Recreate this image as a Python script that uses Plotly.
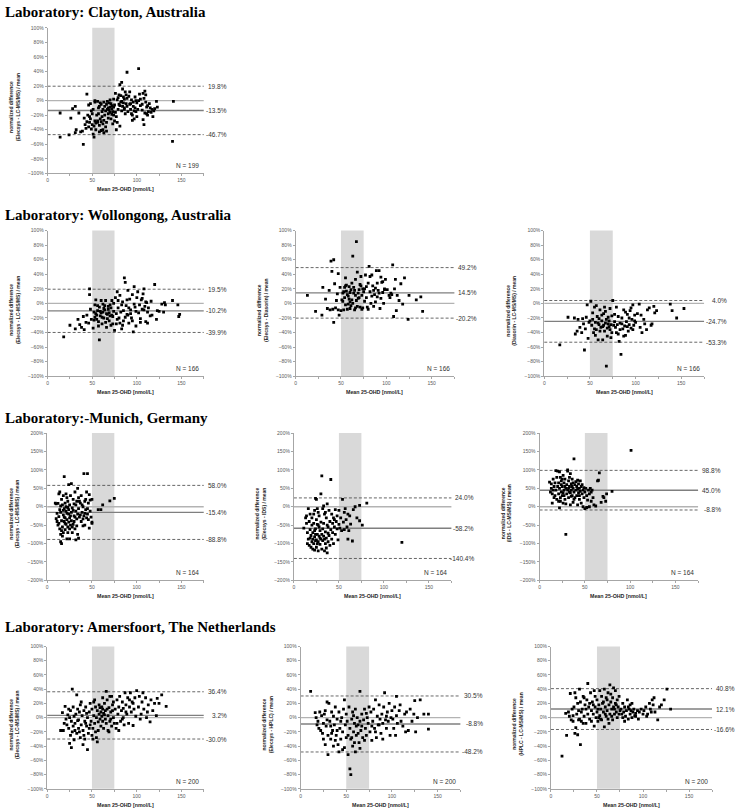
import plotly.graph_objects as go

W, H = 742, 812

# ---------------- data (mean 25-OHD [nmol/L], normalized difference [%]) ----------------
clayton_elecsys_lcms = [
 (14,-50),(14,-17),(24,-47),(26,-24),(28,-11),(31,-8),(31,-44),(32,-40),(35,-17),(37,-43),(40,-60),(42,-33),(44,-29),(44,9),(45,-20),(43,-38),(41,-24),(39,-42),
 (46,-36),(47,-30),(48,-25),(49,-39),(50,-33),(51,-46),(52,-50),(53,-28),(54,-40),(55,-20),(46,-6),(48,-4),(49,-14),(51,-12),(53,-2),(52,-35),(50,-18),(54,-31),(47,-22),(53,0),
 (56,-28),(57,-10),(58,-43),(59,-25),(60,-5),(61,-15),(62,-32),(63,-2),(64,-20),(58,-8),(56,-30),(60,-41),(62,-12),(63,-27),(65,-36),(57,-18),(59,-3),(61,-22),(64,-8),(65,-14),(60,-29),(56,-1),(63,-44),(62,-40),(58,-34),
 (66,-5),(67,-12),(68,-18),(69,-3),(70,-9),(71,-25),(72,-7),(73,-15),(74,2),(66,-30),(68,-24),(70,-16),(72,-11),(74,-20),(75,-6),(67,-1),(69,-13),(71,-4),(73,-32),(75,-28),(66,-42),(68,-10),(70,1),(72,-19),(74,-9),
 (76,10),(77,-40),(78,1),(80,8),(81,22),(82,-2),(83,-14),(84,16),(85,5),(86,-10),(87,12),(88,-4),(89,39),(77,-22),(79,-12),(81,-7),(83,25),(85,-3),(87,-18),(89,3),(76,-16),(78,-30),(80,-5),(82,7),(84,-8),(86,2),(88,8),(90,-15),(79,4),(83,-1),(86,-12),(89,-8),(81,-35),
 (91,6),(92,-5),(93,-12),(94,1),(95,-20),(96,-8),(97,-25),(98,5),(99,-15),(100,-3),(102,44),(103,9),(104,-7),(92,12),(94,-18),(96,-2),(98,-10),(100,-22),(102,0),(104,2),(95,-27),(97,-14),(99,0),(101,-12),(93,-4),
 (106,-13),(107,10),(108,-33),(109,13),(110,-2),(111,-18),(112,-7),(113,-15),(115,-10),(117,-12),(118,-22),(120,-11),(122,-1),(123,-9),(106,-5),(108,3),(110,8),(112,-20),(114,-4),(116,-16),(119,-14),(107,-26),(109,-17),(111,-9),
 (141,-1),(140,-56)]

wollongong_elecsys_lcms = [
 (18,-46),(25,-30),(31,-35),(34,-22),(36,-29),(38,-33),(40,-18),(41,-36),(43,-26),(44,-16),(46,-27),(47,20),(47,12),(48,-8),(49,-22),
 (51,-34),(52,-12),(53,-2),(54,5),(55,-22),(56,-10),(57,-25),(58,-50),(58,-5),(59,-17),(60,4),(61,-28),(62,-12),(63,-20),(64,-3),(65,4),(66,-33),(67,-15),(68,-8),(69,-24),(70,-2),(71,-30),(72,4),(73,-18),(74,-11),(75,-37),(52,-23),(54,-14),(56,-3),(57,-31),(59,-11),(61,-19),(63,-7),(65,-26),(67,-21),(69,-13),(71,-6),(73,-28),(55,-16),(62,-1),(66,-14),(70,-17),(74,0),(60,-13),(64,-9),(68,-4),(72,-16),(53,-19),
 (76,8),(77,-28),(78,16),(79,-6),(80,-20),(81,11),(82,-12),(83,-35),(84,2),(85,-24),(86,35),(87,29),(88,-3),(89,-15),(90,18),(91,-27),(92,6),(93,-9),(94,-20),(95,12),(96,-39),(97,23),(98,-5),(99,-31),(100,8),(77,-14),(79,4),(81,-27),(83,-2),(85,-10),(87,-19),(89,5),(91,-6),(93,-14),(95,-24),(97,-1),(99,-11),(78,-22),(84,-30),(90,-16),
 (101,16),(102,-13),(103,-2),(104,-21),(105,5),(106,-8),(107,13),(108,20),(109,-4),(110,-25),(111,1),(112,-12),(113,-6),(115,-17),(116,3),(117,-16),(120,26),(122,-22),(123,-10),(125,-11),(128,-1),(130,-12),(131,1),(132,-2),(140,4),(146,-2),(147,-18),(148,-15),(104,-26),(106,7),(108,-9),(110,2),(112,-27)]

wollongong_elecsys_diasorin = [
 (13,11),(22,-11),(29,-16),(30,22),(33,6),(35,-7),(37,18),(38,-9),(39,58),(40,44),(41,-8),(42,60),(42,-26),(43,27),(44,-6),(45,4),(46,13),(47,41),(48,-16),(49,22),(50,-10),(51,5),(47,-9),
 (52,14),(53,-9),(54,22),(55,35),(56,17),(57,-8),(58,10),(59,23),(60,2),(61,-3),(62,28),(63,65),(64,14),(65,-9),(66,33),(67,85),(68,43),(69,7),(70,19),(71,-5),(72,24),(73,11),(74,-6),(75,16),(52,3),(54,8),(56,25),(58,-1),(60,15),(62,5),(64,22),(66,11),(68,-4),(70,8),(72,37),(74,20),(53,16),(55,-2),(57,12),(59,6),(61,19),(63,0),(65,18),(67,4),(69,14),(71,26),(73,-8),(55,24),(60,-7),(66,-6),
 (76,20),(77,39),(78,8),(79,-5),(80,28),(81,51),(82,16),(83,0),(84,39),(85,24),(86,-4),(87,12),(88,21),(89,45),(90,9),(91,18),(92,45),(93,-7),(94,36),(95,29),(96,15),(97,0),(98,20),(99,33),(76,3),(78,23),(80,-8),(82,37),(84,10),(86,18),(88,2),(90,28),(92,14),(94,7),(96,30),(98,19),
 (101,19),(103,11),(105,14),(107,53),(108,-18),(109,20),(110,33),(111,-10),(112,11),(114,4),(116,27),(118,-1),(120,35),(124,-22),(125,11),(133,5),(138,9),(140,-11),(104,8),(106,12)]

wollongong_diasorin_lcms = [
 (17,-57),(26,-19),(33,-20),(34,-42),(36,-38),(37,-22),(39,-33),(41,-40),(42,-21),(43,-28),(44,-64),(45,-35),(46,-19),(47,-2),(48,-48),(49,-26),(50,-24),(51,3),
 (52,-30),(53,-13),(54,-40),(55,-5),(56,-26),(57,-36),(58,-18),(59,-50),(60,-29),(61,-9),(62,-33),(63,-24),(64,-50),(65,-14),(66,-38),(67,-27),(68,-86),(69,-45),(70,-19),(71,-32),(72,-7),(73,-29),(74,-40),(75,4),(53,-22),(55,-35),(57,-3),(59,-27),(61,-38),(63,-16),(65,-30),(67,-11),(69,-34),(71,-24),(73,-47),(56,-44),(60,-21),(64,-32),(68,-22),(72,-36),(66,-5),(70,-28),(74,-17),
 (76,-30),(77,-15),(78,-33),(79,-5),(80,-29),(81,-42),(82,-52),(83,-27),(84,-70),(85,-20),(86,-35),(87,-9),(88,-31),(89,-44),(90,-25),(91,-15),(92,-38),(93,-29),(94,-10),(95,-34),(96,-22),(97,-2),(98,-30),(99,-16),(100,-26),(77,-25),(79,-40),(81,-18),(83,-36),(85,-28),(87,-45),(89,-12),(91,-32),(93,-20),(95,-6),(97,-36),(99,-24),
 (102,-14),(104,-1),(105,-33),(106,-16),(107,-40),(109,-22),(110,-28),(112,-36),(113,-9),(115,-6),(117,-30),(118,-28),(120,-4),(121,-13),(123,-10),(138,-1),(140,-10),(145,-20),(153,-7)]

munich_elecsys_lcms = [
 (9,10),(10,-32),(10,8),(11,-40),(11,-18),(12,-50),(12,9),(13,-27),(13,-45),(13,35),(14,-8),(14,-60),(14,40),(15,-95),(15,-15),(15,-75),(16,-100),(16,-38),(16,20),(15,2),
 (17,-55),(17,5),(18,-22),(18,-70),(19,82),(19,-40),(19,-5),(20,10),(20,-30),(20,-62),(21,35),(21,-48),(21,-12),(22,-87),(22,25),(22,-35),(23,-2),(23,-55),(23,15),(24,-20),(24,-42),(24,60),(25,-87),(25,5),(25,-60),(18,30),(17,-80),(19,-28),(21,0),(23,-70),(25,-30),(16,-65),(18,-10),(20,-45),(22,-18),(24,-8),
 (26,30),(26,-50),(27,63),(27,-15),(27,-38),(28,-3),(28,-70),(29,20),(29,-48),(30,-25),(30,8),(31,40),(31,-60),(32,-90),(32,-12),(33,-33),(33,15),(34,50),(34,-75),(35,-85),(35,-5),(26,-25),(28,-55),(30,-40),(32,5),(34,-20),(29,-10),(31,-28),(33,-52),(35,25),
 (36,-28),(37,10),(38,-40),(38,30),(39,-15),(40,0),(41,90),(41,-25),(42,15),(42,-50),(43,-8),(44,-30),(44,40),(45,90),(45,-20),(46,10),(46,-35),(47,33),(47,-58),(48,18),(48,-12),(49,-28),(50,20),(50,-45),(50,-42),(37,-22),(39,5),(40,-33),(43,20),(45,-5),(40,-52),(42,-18),(36,15),
 (57,-8),(60,-8),(62,5),(70,16),(75,23)]

munich_elecsys_ids = [
 (11,-58),(13,-30),(14,-45),(15,-100),(15,-70),(16,-5),(16,-88),(17,-105),(17,-40),(18,-20),(18,-62),(19,-110),(19,-78),(20,-50),(20,-95),(20,-30),(14,-25),(18,-85),
 (21,-115),(21,-70),(22,-45),(22,-100),(23,-82),(23,-10),(23,-118),(24,23),(24,-60),(24,-92),(25,20),(25,-35),(25,-110),(26,-75),(26,-5),(27,-95),(27,-50),(27,-120),(28,-80),(28,-25),(29,-102),(29,-65),(30,35),(30,-88),(30,-42),(21,-88),(22,-20),(24,-75),(26,-100),(28,-55),(29,-85),(23,-65),(25,-90),(27,-15),(26,-48),
 (31,84),(31,-75),(31,-115),(32,-5),(32,-92),(33,-45),(33,-80),(34,-120),(34,-20),(35,-68),(35,-100),(36,-30),(36,-85),(37,8),(37,-125),(38,-55),(38,-95),(39,-10),(39,-78),(40,-105),(40,-40),(32,-60),(34,-88),(36,-112),(38,-72),(33,2),(35,-15),(37,-50),
 (41,74),(41,-62),(42,-88),(42,-20),(43,-45),(44,-100),(44,-30),(45,-55),(46,-8),(46,-75),(47,-40),(48,-60),(48,-25),(49,-90),(50,-48),(50,-10),(43,-70),(45,-35),
 (51,-58),(52,-30),(53,-65),(54,20),(55,-42),(56,-15),(57,-5),(58,-35),(59,-55),(60,-88),(61,-65),(62,-25),(63,-47),(65,-93),(66,-8),(68,0),(70,-30),(73,4),(73,-38),(76,-50),(81,10),(56,-62),(60,-20),
 (120,-97)]

munich_ids_lcms = [
 (11,67),(12,40),(13,50),(14,10),(15,75),(15,45),(16,55),(17,30),(17,65),(18,98),(18,45),(19,20),(19,80),(20,97),(20,55),(14,35),(16,25),(13,62),
 (21,35),(21,65),(22,95),(22,-3),(22,50),(23,80),(23,15),(24,40),(24,70),(25,30),(25,55),(26,85),(26,10),(27,45),(27,65),(28,20),(28,75),(29,-75),(29,50),(30,35),(30,60),(21,15),(23,25),(24,60),(26,38),(28,55),(29,8),(25,75),(27,30),
 (31,100),(31,97),(31,45),(32,70),(32,25),(33,55),(33,80),(34,38),(34,5),(35,62),(35,45),(36,30),(36,75),(37,50),(37,12),(38,130),(38,40),(39,60),(39,25),(40,45),(40,68),(32,50),(34,90),(36,55),(38,20),(33,40),(35,28),(37,65),
 (41,55),(41,30),(42,48),(42,5),(43,62),(43,38),(44,50),(44,20),(45,70),(45,42),(46,55),(46,10),(47,35),(47,60),(48,45),(48,0),(49,25),(49,52),(50,-5),(50,40),(42,72),(44,30),
 (51,50),(52,-2),(52,30),(53,18),(54,45),(55,0),(55,35),(56,50),(57,40),(57,15),(58,45),(59,25),(60,5),(62,2),(64,70),(65,72),(66,92),(68,12),(70,28),(71,25),(73,15),(74,35),(80,42),
 (101,153)]

amersfoort_elecsys_lcms = [
 (15,-18),(17,7),(18,-18),(20,16),(21,-2),(22,-10),(23,4),(24,-15),(25,-36),(25,0),(26,10),(27,-42),(27,-5),(28,40),(28,-20),(29,15),(30,-31),(30,2),(19,-8),(24,12),(26,-25),(29,-12),
 (31,-8),(32,5),(33,32),(33,-22),(34,12),(35,-3),(35,-15),(36,8),(37,-28),(37,18),(38,-10),(39,3),(40,-38),(40,-18),(41,10),(42,-5),(42,-30),(43,15),(44,-12),(45,-45),(45,0),(36,-20),(38,22),(41,-25),(43,-8),(44,6),(31,-18),(34,-4),
 (46,-22),(47,8),(48,-10),(48,20),(49,-5),(50,-25),(50,12),(51,-15),(52,3),(52,22),(53,-8),(54,15),(55,-28),(55,0),(56,-34),(56,10),(57,-18),(58,5),(58,18),(59,-2),(60,8),(60,-12),(47,-15),(51,-30),(53,25),(57,-6),(59,14),(54,-20),
 (61,2),(61,15),(62,-5),(62,28),(63,6),(63,-15),(64,20),(65,-2),(65,10),(66,37),(66,-8),(67,25),(68,3),(68,-18),(69,14),(70,-5),(70,30),(71,8),(72,30),(72,-12),(73,18),(74,0),(74,22),(75,-8),(64,4),(67,12),(69,-20),(71,-2),(73,10),(62,12),
 (76,12),(77,-15),(78,25),(79,5),(80,-18),(80,15),(81,30),(82,-5),(83,10),(84,22),(85,0),(86,-10),(87,35),(88,18),(89,5),(90,28),(91,-8),(92,15),(93,35),(94,8),(95,22),(96,-11),(97,12),(98,28),(99,2),(100,38),(78,-8),(84,-2),(88,8),(92,25),(96,20),(85,13),
 (102,15),(103,30),(105,5),(106,22),(108,12),(110,28),(111,0),(113,18),(115,-6),(116,25),(118,10),(120,20),(122,3),(123,27),(125,20),(128,32),(133,16),(107,35),(112,8),(104,-2)]

amersfoort_elecsys_hplc = [
 (11,37),(16,7),(17,0),(19,-5),(20,-15),(21,8),(22,-18),(23,3),(24,-22),(25,-8),(26,5),(27,-38),(28,-12),(29,22),(30,-52),(30,-25),(18,-10),(25,-30),(27,10),(29,-3),
 (31,20),(32,-5),(33,-30),(34,8),(35,-18),(36,-40),(36,2),(37,-10),(38,15),(39,-25),(40,-2),(41,-38),(42,-48),(42,8),(43,-15),(44,-30),(45,0),(46,-20),(47,12),(48,25),(48,-42),(49,-10),(50,-28),(50,5),(33,-12),(38,-32),(44,-5),(46,-45),(40,-18),(34,-22),
 (51,-5),(52,-52),(52,-25),(53,15),(54,-72),(54,-15),(55,-80),(55,-30),(56,-2),(57,-40),(57,8),(58,-20),(59,-8),(60,-48),(60,12),(61,-25),(62,0),(63,-10),(64,-35),(65,37),(65,-43),(65,-5),(66,-18),(67,5),(68,-28),(69,-3),(70,12),(71,-15),(72,-25),(73,0),(74,-8),(75,15),(56,-28),(58,3),(61,-12),(63,-22),(67,-12),(70,-32),(72,6),(59,-35),
 (76,-20),(77,8),(78,-32),(79,-5),(80,12),(81,-15),(82,25),(83,-28),(84,2),(85,-10),(86,18),(87,-2),(88,-22),(89,5),(90,-8),(91,15),(92,35),(93,-3),(94,-15),(95,8),(96,-5),(97,20),(98,-25),(99,0),(100,10),(78,-12),(82,-20),(86,-10),(90,-30),(94,2),
 (101,-2),(102,-15),(103,15),(105,30),(105,3),(106,-8),(108,10),(110,-5),(112,-12),(114,5),(116,8),(118,-18),(120,12),(122,-5),(124,5),(125,24),(126,-20),(128,0),(131,25),(135,5),(140,5),(140,-16),(104,-25),(109,18),(115,-20)]

amersfoort_hplc_lcms = [
 (12,-54),(16,6),(17,-25),(20,2),(21,34),(22,-3),(23,12),(24,-5),(25,15),(26,-22),(26,35),(27,-14),(28,5),(29,-24),(29,20),(30,-3),(19,8),(24,3),(27,28),(30,10),
 (31,40),(32,-38),(32,22),(33,-5),(34,12),(35,30),(36,2),(37,18),(38,-8),(39,25),(40,48),(40,5),(41,15),(42,-2),(43,35),(44,10),(45,22),(33,8),(36,28),(38,12),(42,20),(44,-5),(31,-2),(35,-8),
 (46,5),(47,-12),(47,38),(48,15),(49,0),(50,25),(50,8),(51,-5),(52,18),(53,38),(53,3),(54,12),(55,30),(55,-3),(56,20),(57,8),(58,-13),(58,40),(59,15),(60,2),(60,28),(48,30),(51,12),(54,-2),(57,22),(59,5),(46,18),(52,0),
 (61,10),(62,35),(62,-2),(63,18),(64,46),(64,5),(65,22),(66,12),(67,28),(67,-3),(68,42),(68,15),(69,5),(70,20),(70,38),(71,8),(72,25),(72,0),(73,15),(74,30),(75,10),(61,25),(63,-8),(66,2),(69,12),(71,18),(74,5),(65,33),
 (76,12),(77,5),(78,20),(79,8),(80,15),(81,2),(82,10),(83,25),(84,-2),(85,12),(86,18),(86,5),(87,10),(88,0),(89,8),(90,12),(91,3),(92,6),(94,10),(95,-2),(96,8),(98,12),(100,5),(80,-5),(84,15),(88,20),(92,2),(78,0),
 (101,10),(103,15),(105,5),(107,20),(108,12),(110,25),(111,18),(112,28),(113,8),(116,-3),(118,15),(120,18),(123,25),(126,40),(130,12),(104,2),(109,8)]

# limits of agreement: (upper, mean, lower) in %
limits = [(19.8,-13.5,-46.7),(19.5,-10.2,-39.9),(49.2,14.5,-20.2),(4.0,-24.7,-53.3),
          (58.0,-15.4,-88.8),(24.0,-58.2,-140.4),(98.8,45.0,-8.8),
          (36.4,3.2,-30.0),(30.5,-8.8,-48.2),(40.8,12.1,-16.6)]
n_values = [199,166,166,166,164,164,164,200,200,200]
comparisons = ["Elecsys - LC-MS/MS","Elecsys - LC-MS/MS","Elecsys - Diasorin","Diasorin - LC-MS/MS",
               "Elecsys - LC-MS/MS","Elecsys - IDS","IDS - LC-MS/MS",
               "Elecsys - LC-MS/MS","Elecsys - HPLC","HPLC - LC-MS/MS"]
lab_titles = ["Laboratory: Clayton, Australia","Laboratory: Wollongong, Australia",
              "Laboratory:-Munich, Germany","Laboratory: Amersfoort, The Netherlands"]
band = (50,75)

datasets = [clayton_elecsys_lcms, wollongong_elecsys_lcms, wollongong_elecsys_diasorin, wollongong_diasorin_lcms,
            munich_elecsys_lcms, munich_elecsys_ids, munich_ids_lcms,
            amersfoort_elecsys_lcms, amersfoort_elecsys_hplc, amersfoort_hplc_lcms]

# ---------------- layout (pixel boxes in window coordinates) ----------------
boxes = [((46.7,203),(25,171.7)),
         ((46.7,203),(229.3,376)),((295,454),(229.3,376)),((544,704),(229.3,376)),
         ((46.3,203),(433.3,581.7)),((293.3,451),(433.3,581.7)),((539.3,698),(433.3,581.7)),
         ((46.3,203),(648.3,791.7)),((300,460),(648.3,791.7)),((550.7,712),(648.3,791.7))]
yranges = [100,100,100,100,200,200,200,100,100,100]
title_y = [9.5,213.5,418.5,628.5]

def px(x):
    return x / W

def py(y):
    return 1 - y / H

SANS = "Liberation Sans, Arial, sans-serif"
fig = go.Figure()
layout = dict(width=W, height=H, margin=dict(l=0,r=0,t=0,b=0), plot_bgcolor="white",
              paper_bgcolor="white", showlegend=False)
shapes, annots = [], []

for i, (pts, (bx, by), yr, lim, n, comp) in enumerate(zip(datasets, boxes, yranges, limits, n_values, comparisons), start=1):
    xs = [p[0] for p in pts]; ys = [p[1] for p in pts]
    suf = "" if i == 1 else str(i)
    xa, ya = f"x{suf}", f"y{suf}"
    fig.add_trace(go.Scatter(x=xs, y=ys, mode="markers", xaxis=xa, yaxis=ya,
                             marker=dict(symbol="square", size=2.8, color="black", line=dict(width=0))))
    axcommon = dict(showgrid=False, zeroline=False, showline=True, linecolor="#a6a6a6", linewidth=1,
                    ticks="outside", ticklen=2, tickcolor="#a6a6a6",
                    tickfont=dict(family=SANS, size=5, color="#595959"))
    layout[f"xaxis{suf}"] = dict(domain=[px(bx[0]), px(bx[1])], range=[0,175], anchor=ya,
                                 tickmode="linear", tick0=0, dtick=50,
                                 minor=dict(dtick=25, tick0=0, ticks="outside", ticklen=2, tickcolor="#a6a6a6"),
                                 **axcommon)
    layout[f"yaxis{suf}"] = dict(domain=[py(by[1]), py(by[0])], range=[-yr, yr], anchor=xa,
                                 tickmode="linear", tick0=-yr, dtick=(20 if yr == 100 else 50),
                                 ticksuffix="%", **axcommon)
    shapes.append(dict(type="rect", xref=xa, yref=f"{ya} domain", x0=band[0], x1=band[1], y0=0, y1=1,
                       fillcolor="#d9d9d9", line=dict(width=0), layer="below"))
    shapes.append(dict(type="line", xref=f"{xa} domain", yref=ya, x0=0, x1=1, y0=0, y1=0,
                       line=dict(color="#b3b3b3", width=1.3), layer="below"))
    up, mean, lo = lim
    shapes.append(dict(type="line", xref=f"{xa} domain", yref=ya, x0=0, x1=1, y0=mean, y1=mean,
                       line=dict(color="#7f7f7f", width=1.4), layer="below"))
    for v in (up, lo):
        shapes.append(dict(type="line", xref=f"{xa} domain", yref=ya, x0=0, x1=1, y0=v, y1=v,
                           line=dict(color="#404040", width=0.8, dash="3px,2px"), layer="below"))
    for v in (up, mean, lo):
        annots.append(dict(xref=f"{xa} domain", yref=ya, x=1, y=v, xanchor="right", yanchor="middle",
                           xshift=25, text=f"{v:.1f}%", showarrow=False,
                           font=dict(family=SANS, size=6.5, color="#333333")))
    annots.append(dict(xref=f"{xa} domain", yref=f"{ya} domain", x=0.985, y=0.055, xanchor="right",
                       yanchor="middle", text=f"N = {n}", showarrow=False,
                       font=dict(family=SANS, size=6.5, color="#333333")))
    annots.append(dict(xref="paper", yref="paper", x=px(bx[0]-33), y=py((by[0]+by[1])/2+7),
                       xanchor="center", yanchor="middle", textangle=-90, showarrow=False,
                       text=f"<b>normalized difference<br>({comp}) / mean</b>",
                       font=dict(family=SANS, size=5, color="#262626")))
    annots.append(dict(xref="paper", yref="paper", x=px((bx[0]+bx[1])/2), y=py(by[1]+16),
                       xanchor="center", yanchor="middle", showarrow=False,
                       text="<b>Mean 25-OHD [nmol/L]</b>",
                       font=dict(family=SANS, size=5.3, color="#262626")))

for t, yc in zip(lab_titles, title_y):
    annots.append(dict(xref="paper", yref="paper", x=px(2), y=py(yc), xanchor="left", yanchor="middle",
                       text=f"<b>{t}</b>", showarrow=False,
                       font=dict(family="Liberation Serif, Times New Roman, serif", size=15, color="black")))

layout["shapes"] = shapes
layout["annotations"] = annots
fig.update_layout(**layout)

# pin the figure to the top-left corner of the window (no page margin)
pin = ("document.body.style.margin='0px';"
       "var gd=document.getElementById('{plot_id}');"
       "gd.style.position='absolute';gd.style.left='0px';gd.style.top='0px';")
fig.write_html("out.html", post_script=pin, config={"displayModeBar": False, "staticPlot": True})
